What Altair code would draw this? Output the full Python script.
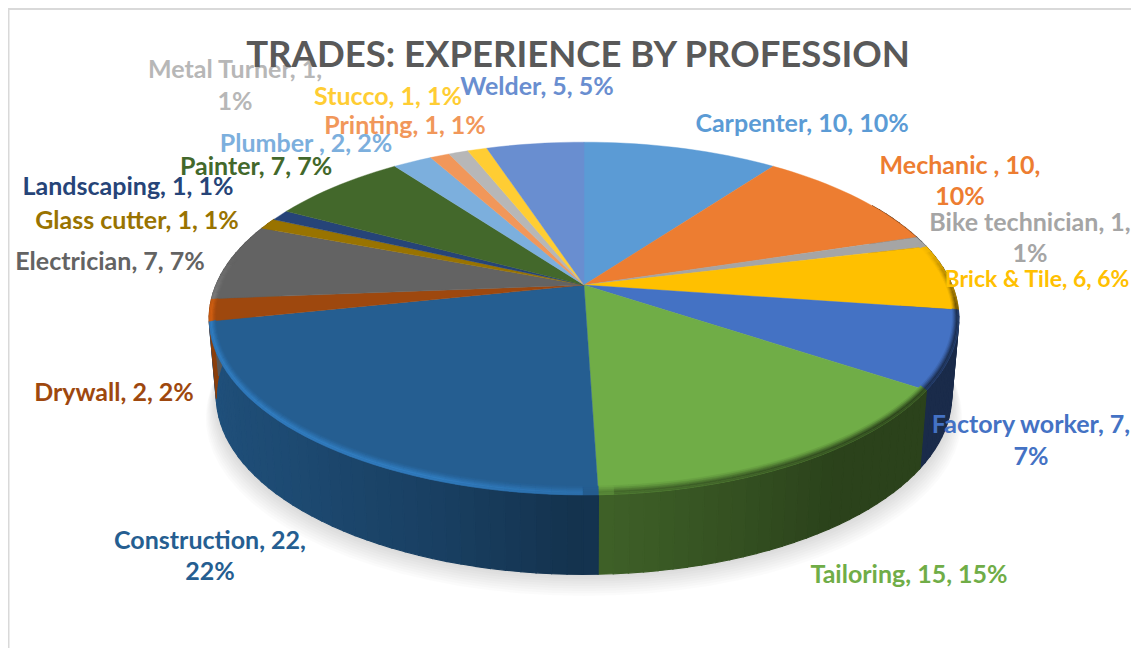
import numpy as np
import altair as alt

NAMES = ["Carpenter", "Mechanic", "Bike technician", "Brick & Tile", "Factory worker", "Tailoring",
         "Construction", "Drywall", "Electrician", "Glass cutter", "Landscaping", "Painter",
         "Plumber", "Printing", "Metal Turner", "Stucco", "Welder"]
VALUES = [10, 10, 1, 6, 7, 15, 22, 2, 7, 1, 1, 7, 2, 1, 1, 1, 5]
COLORS = ["#5b9bd5", "#ed7d31", "#a5a5a5", "#ffc000", "#4472c4", "#70ad47",
          "#255e91", "#9e480e", "#636363", "#997300", "#264478", "#43682b",
          "#7cafdd", "#f1975a", "#b7b7b7", "#ffcd33", "#698ed0"]
TITLE = "TRADES: EXPERIENCE BY PROFESSION"
LABEL_TEXT = ["Metal Turner, 1,", "1%", "Stucco, 1, 1%", "Welder, 5, 5%", "Printing, 1, 1%",
              "Carpenter, 10, 10%", "Plumber , 2, 2%", "Painter, 7, 7%", "Landscaping, 1, 1%",
              "Glass cutter, 1, 1%", "Electrician, 7, 7%", "Mechanic , 10,", "10%",
              "Bike technician, 1,", "1%", "Brick & Tile, 6, 6%", "Factory worker, 7,", "7%",
              "Drywall, 2, 2%", "Construction, 22,", "22%", "Tailoring, 15, 15%"]
LABEL_OWNER = ["Metal Turner", "Metal Turner", "Stucco", "Welder", "Printing", "Carpenter", "Plumber",
               "Painter", "Landscaping", "Glass cutter", "Electrician", "Mechanic", "Mechanic",
               "Bike technician", "Bike technician", "Brick & Tile", "Factory worker", "Factory worker",
               "Drywall", "Construction", "Construction", "Tailoring"]

# layout of the text (page pixels)
LABEL_X = [235, 235, 388, 537, 405, 802, 306, 256, 128, 137, 110, 960, 960, 1030, 1030, 1037, 1031, 1031, 114, 210, 210, 909]
LABEL_Y = [70, 102, 97, 87, 126, 124, 144, 167, 187, 221, 262, 166, 197, 223, 254, 280, 425, 457, 393, 541, 572, 575]
LABEL_SIZE = [25, 25, 25, 25, 25, 25, 25, 25, 25, 25, 25, 25, 25, 25, 25, 23, 25, 25, 25, 25, 25, 25]

# perspective of the disc
CX, K = 584, 0.19
TOP = dict(a=368, b=170, y0=285)
BOT = dict(a=361, b=172, y0=362)


def pt(t, r, a, b, y0):
    rad = np.radians(t)
    u, v = r * np.sin(rad), -r * np.cos(rad)
    d = 1 - K * v
    return [float(CX + a * u / d), float(y0 + b * v / d)]


def bevel(t, w):
    # point on the edge of the top face, moved inwards by a share w of the bevel
    return pt(t, 1, TOP["a"] * (1 - .017 * w), TOP["b"] * (1 - .042 * w), TOP["y0"])


def shade(hexc, f):
    rgb = [int(hexc[i:i + 2], 16) for i in (1, 3, 5)]
    return "#%02x%02x%02x" % tuple(int(min(255, max(0, round(c * f)))) for c in rgb)


def mix(f, m):
    return 1 + (f - 1) * m


def poly(points, color):
    return {"type": "Feature", "properties": {"c": color},
            "geometry": {"type": "Polygon", "coordinates": [points + [points[0]]]}}


total = sum(VALUES)
edges = np.concatenate([[0], np.cumsum(VALUES)]) / total * 360
STEP = 2.0


def sweep(s, e):
    n = max(1, int(np.ceil((e - s) / STEP)))
    return np.linspace(s, e, n + 1)


def wall_f(t):
    return np.interp(t, [60, 100, 145, 178, 180, 200, 225, 262, 295], [.4, .38, .38, .56, .53, .68, .79, .87, .9])


def rim_f(t):
    return np.interp(t, [75, 98, 135, 176, 181, 200, 262, 280], [1, .42, .4, .6, 1.2, 1.32, 1.32, 1])


top, walls, rims = [], [], []
RIM_W = [1.0, .8, .6, .4, .2, 0.0]
RIM_M = [.15, .4, .7, 1.0, .9]
for s, e, col in zip(edges[:-1], edges[1:], COLORS):
    ts = sweep(s, e)
    top.append(poly([[float(CX), float(TOP["y0"])]] + [pt(t, 1, **TOP) for t in ts], col))
    for t0, t1 in zip(ts[:-1], ts[1:]):
        mid = (t0 + t1) / 2
        if 60 < mid < 295:
            walls.append(poly([pt(t0, 1, **TOP), pt(t1, 1, **TOP), pt(t1, 1, **BOT), pt(t0, 1, **BOT)],
                              shade(col, wall_f(mid))))
            f = rim_f(mid)
            if abs(f - 1) > .01:
                for w0, w1, m in zip(RIM_W[:-1], RIM_W[1:], RIM_M):
                    rims.append(poly([bevel(t0, w0), bevel(t1, w0), bevel(t1, w1), bevel(t0, w1)],
                                     shade(col, mix(f, m))))

shadow = []
for i in range(1, 10):
    ts = np.arange(0, 360, 4.0)
    g = dict(a=BOT["a"] * (1 + .0032 * i), b=BOT["b"], y0=BOT["y0"] + 2.4 * i)
    shadow.append(poly([pt(t, 1, **g) for t in ts], "#000000"))

projection = alt.Projection(type="identity", scale=1, translate=[-8, -8])


def shapes(features, **kw):
    return alt.Chart(alt.Data(values=features)).mark_geoshape(**kw).encode(
        fill=alt.Fill("properties.c:N", scale=None),
        stroke=alt.Stroke("properties.c:N", scale=None),
    ).project(**projection.to_dict())


shadow_layer = alt.Chart(alt.Data(values=shadow)).mark_geoshape(
    fill="#000000", opacity=0.016, strokeWidth=0).project(**projection.to_dict())

owner = dict(zip(NAMES, COLORS))
label_rows = [{"t": t, "x": x, "y": y, "c": owner[o], "s": s}
              for t, x, y, o, s in zip(LABEL_TEXT, LABEL_X, LABEL_Y, LABEL_OWNER, LABEL_SIZE)]
xs = alt.Scale(domain=[8, 1131], range=[0, 1123], nice=False, zero=False)
ys = alt.Scale(domain=[8, 648], range=[0, 640], nice=False, zero=False)
labels = alt.Chart(alt.Data(values=label_rows)).mark_text(
    font="Lato", fontWeight="bold", baseline="middle", align="center").encode(
    x=alt.X("x:Q", scale=xs, axis=None),
    y=alt.Y("y:Q", scale=ys, axis=None),
    text="t:N",
    color=alt.Color("c:N", scale=None),
    size=alt.Size("s:Q", scale=None),
)
title = alt.Chart(alt.Data(values=[{"t": TITLE, "x": 578, "y": 56}])).mark_text(
    font="Lato", fontWeight="bold", fontSize=36.5, baseline="middle", align="center", color="#595959").encode(
    x=alt.X("x:Q", scale=xs, axis=None),
    y=alt.Y("y:Q", scale=ys, axis=None),
    text="t:N",
)
frame_top = alt.Chart(alt.Data(values=[{"a": 1}])).mark_rule(color="#d9d9d9", strokeWidth=2).encode(
    x=alt.value(0), x2=alt.value(1123), y=alt.value(1))
frame_left = alt.Chart(alt.Data(values=[{"a": 1}])).mark_rule(color="#d9d9d9", strokeWidth=2).encode(
    x=alt.value(0.5), y=alt.value(0), y2=alt.value(640))

chart = alt.layer(
    frame_top, frame_left, shadow_layer,
    shapes(walls, strokeWidth=1.2),
    shapes(top, strokeWidth=0.4),
    shapes(rims, strokeWidth=0.5),
    labels, title,
).properties(width=1123, height=640, padding=0, background="white",
             autosize=alt.AutoSizeParams(type="none"),
             view=alt.ViewConfig(stroke=None)).resolve_scale(fill="independent", stroke="independent")

chart.save("out.html", embed_options={"renderer": "svg", "actions": False})
